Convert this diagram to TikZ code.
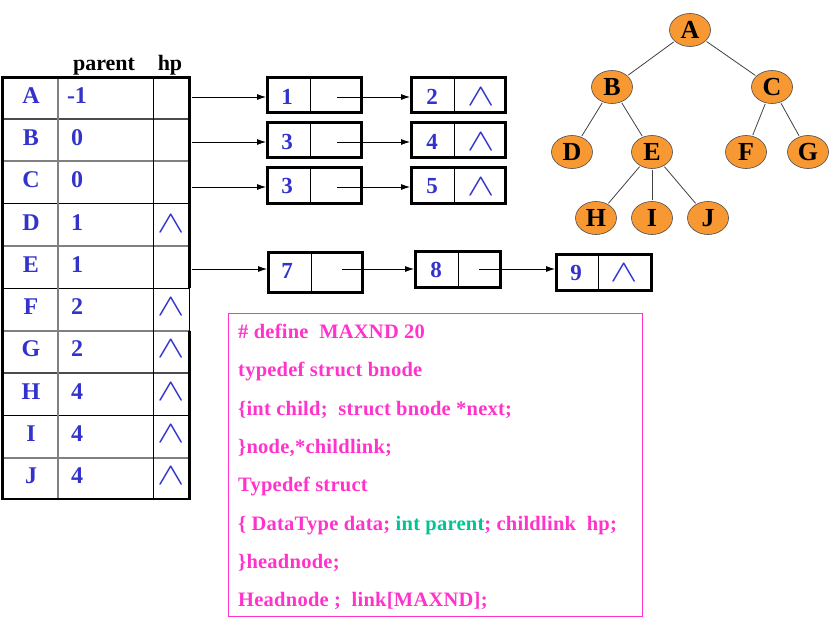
\documentclass[tikz,border=0pt]{standalone}
\usepackage{fontspec}
\setmainfont{Liberation Serif}
\usetikzlibrary{arrows.meta,shapes.geometric}
\definecolor{tblue}{RGB}{51,51,204}
\definecolor{tpink}{RGB}{255,51,204}
\definecolor{tgreen}{RGB}{0,196,150}
\definecolor{torange}{RGB}{247,152,51}
\begin{document}
\begin{tikzpicture}[x=1pt,y=-1pt,
 tl/.style={font=\fontsize{24}{24}\selectfont\bfseries, text=tblue, inner sep=0, anchor=base},
 hdr/.style={font=\fontsize{22}{22}\selectfont\bfseries, inner sep=0, anchor=base},
 nul/.style={text=tblue, inner sep=0, anchor=base},
 lbox/.style={draw, line width=3pt, inner sep=0},
 num/.style={font=\fontsize{23}{23}\selectfont\bfseries, text=tblue, inner sep=0, anchor=base},
 arr/.style={-{Latex[length=9pt,width=6pt]}, line width=0.8pt},
 tnode/.style={ellipse, draw=black!70, line width=0.6pt, fill=torange, minimum width=41, minimum height=33, inner sep=0, font=\fontsize{26}{26}\selectfont\bfseries},
 tedge/.style={draw=black!75, line width=0.8pt, shorten <=1pt, shorten >=1pt},
 code/.style={anchor=base west, inner sep=0, text=tpink, font=\fontsize{20.5}{20.5}\selectfont\bfseries\addfontfeatures{LetterSpace=1.2}},
]
\newcommand\nulsym{\scalebox{4.1}[3.1]{$\wedge$}}
\useasboundingbox (0,0) rectangle (840,624);
% ---------- table ----------
\draw[gray!60!black, line width=1.2pt] (2,119) -- (189,119);
\draw[gray, line width=1.5pt] (2,161) -- (189,161);
\draw[black, line width=1pt] (2,203) -- (189,203);
\draw[gray, line width=1.5pt] (2,246) -- (189,246);
\draw[black, line width=1pt] (2,288) -- (189,288);
\draw[gray, line width=1.5pt] (2,331) -- (189,331);
\draw[gray!60!black, line width=1.2pt] (2,373) -- (189,373);
\draw[black, line width=1pt] (2,415) -- (189,415);
\draw[gray, line width=1.5pt] (2,458) -- (189,458);
\draw[gray, line width=2pt] (58,77) -- (58,499);
\draw[black, line width=1pt] (153,77) -- (153,499);
\draw[line width=3pt] (2,77) -- (189,77);
\draw[line width=3pt] (2,76) -- (2,500);
\draw[line width=2pt] (2,499) -- (189,499);
\draw[line width=3pt] (189,76) -- (189,288);
\draw[line width=1pt] (189,288) -- (189,331);
\draw[line width=3pt] (189,331) -- (189,500);
\node[hdr] (hpar) at (104,70) {parent};
\node[hdr] (hhp) at (170,70) {hp};
\foreach \l/\p/\y in {A/-1/103,B/0/145,C/0/187,D/1/230,E/1/272,F/2/314,G/2/356,H/4/399,I/4/441,J/4/483}{
  \node[tl] (r\l) at (31,\y) {\l};
  \node[tl] (p\l) at (77,\y) {\p};
}
\foreach \l/\y in {D/232,F/315,G/357,H/400,I/442,J/484}{
  \node[nul] (h\l) at (171,\y) {\nulsym};
}
% ---------- lists ----------
\node[lbox, minimum width=94, minimum height=35] (b1) at (314.5,95) {};
\node[lbox, minimum width=94, minimum height=35] (b2) at (458.5,95) {};
\node[lbox, minimum width=94, minimum height=35] (b3) at (314.5,140) {};
\node[lbox, minimum width=94, minimum height=35] (b4) at (458.5,140) {};
\node[lbox, minimum width=94, minimum height=36] (b5) at (314.5,185.5) {};
\node[lbox, minimum width=94, minimum height=36] (b6) at (458.5,185.5) {};
\node[lbox, minimum width=94, minimum height=40] (b7) at (315.5,272.5) {};
\node[lbox, minimum width=85, minimum height=36] (b8) at (458,269.5) {};
\node[lbox, minimum width=95, minimum height=36] (b9) at (604,272.5) {};
\foreach \b/\x in {b1/310,b2/454,b3/310,b4/454,b5/310,b6/454,b7/311,b8/458,b9/598}{
  \draw[line width=1pt] (\b.north -| \x,0) -- (\b.south -| \x,0);
}
\node[num] (n1) at (287,104) {1};
\node[num] (n2) at (432,104) {2};
\node[nul] (z2) at (481,105) {\nulsym};
\node[num] (n3) at (287,149) {3};
\node[num] (n4) at (432,149) {4};
\node[nul] (z4) at (481,150) {\nulsym};
\node[num] (n5) at (287,193) {3};
\node[num] (n6) at (432,193) {5};
\node[nul] (z6) at (481,195) {\nulsym};
\node[num] (n7) at (287,278) {7};
\node[num] (n8) at (436,277) {8};
\node[num] (n9) at (576,280) {9};
\node[nul] (z9) at (624,281) {\nulsym};
% arrows
\coordinate (sA) at (192,97);
\coordinate (sB) at (192,142);
\coordinate (sC) at (192,187);
\coordinate (sE) at (192,269);
\coordinate (s1) at (337,97);
\coordinate (s3) at (337,142);
\coordinate (s5) at (337,187);
\coordinate (s7) at (342,269);
\coordinate (s8) at (479,269);
\draw[arr] (sA) -- (sA -| b1.west);
\draw[arr] (sB) -- (sB -| b3.west);
\draw[arr] (sC) -- (sC -| b5.west);
\draw[arr] (sE) -- (sE -| b7.west);
\draw[arr] (s1) -- (s1 -| b2.west);
\draw[arr] (s3) -- (s3 -| b4.west);
\draw[arr] (s5) -- (s5 -| b6.west);
\draw[arr] (s7) -- (s7 -| b8.west);
\draw[arr] (s8) -- (s8 -| b9.west);
% ---------- tree ----------
\node[tnode] (tA) at (690,30) {A};
\node[tnode] (tB) at (612,87) {B};
\node[tnode] (tC) at (772,87) {C};
\node[tnode] (tD) at (572,152) {D};
\node[tnode] (tE) at (652,152) {E};
\node[tnode] (tF) at (746,152) {F};
\node[tnode] (tG) at (808,152) {G};
\node[tnode] (tH) at (596,218) {H};
\node[tnode] (tI) at (652,218) {I};
\node[tnode] (tJ) at (708,218) {J};
\draw[tedge] (tA) -- (tB);
\draw[tedge] (tA) -- (tC);
\draw[tedge] (tB) -- (tD);
\draw[tedge] (tB) -- (tE);
\draw[tedge] (tC) -- (tF);
\draw[tedge] (tC) -- (tG);
\draw[tedge] (tE) -- (tH);
\draw[tedge] (tE) -- (tI);
\draw[tedge] (tE) -- (tJ);
% ---------- code ----------
\node[draw=tpink, line width=1pt, minimum width=414, minimum height=303, inner sep=0] (cbox) at (435.5,465) {};
\node[code] (c1) at (238,338) {\# define~~MAXND~20};
\node[code] (c2) at (238,376) {typedef~struct~bnode};
\node[code] (c3) at (238,415) {\{int~child;~~struct~bnode~*next;};
\node[code] (c4) at (238,453) {\}node,*childlink;};
\node[code] (c5) at (238,491) {Typedef~struct};
\node[code] (c6) at (238,530) {\{ DataType~data; \textcolor{tgreen}{int~parent}; childlink~~hp;};
\node[code] (c7) at (238,568) {\}headnode;};
\node[code] (c8) at (238,606) {Headnode~;~~link[MAXND];};
\end{tikzpicture}
\end{document}
